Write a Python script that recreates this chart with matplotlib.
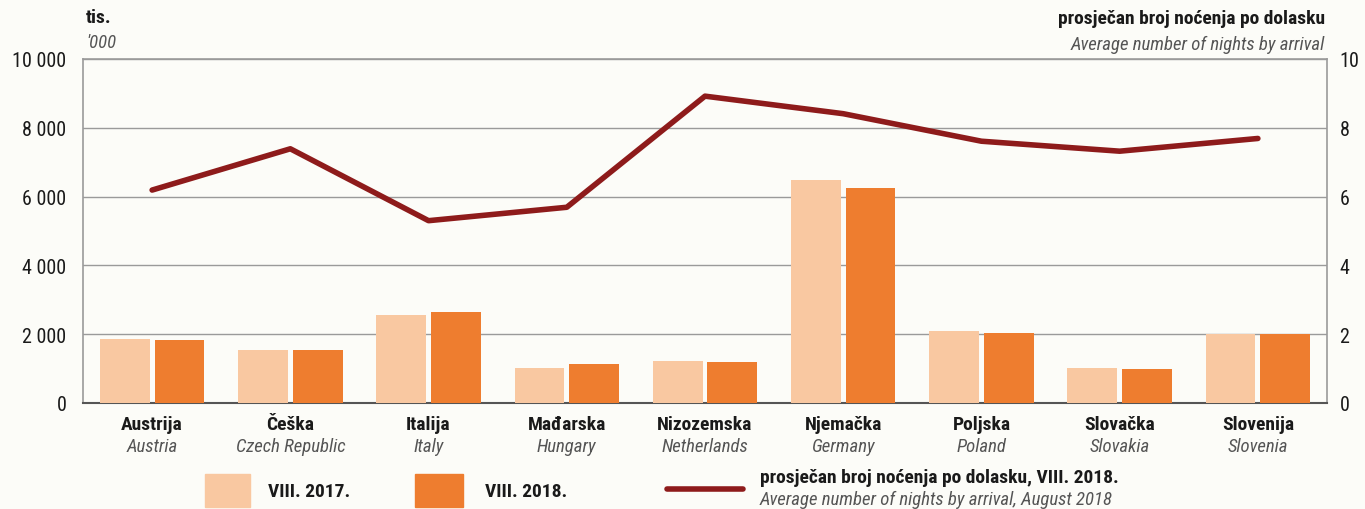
import matplotlib
matplotlib.use("Agg")
import matplotlib.pyplot as plt
from matplotlib import font_manager as fm
from matplotlib.patches import Rectangle
from matplotlib.lines import Line2D
import numpy as np

# ---- data ----
countries_hr = ["Austrija", "Češka", "Italija", "Mađarska", "Nizozemska",
                "Njemačka", "Poljska", "Slovačka", "Slovenija"]
countries_en = ["Austria", "Czech Republic", "Italy", "Hungary", "Netherlands",
                "Germany", "Poland", "Slovakia", "Slovenia"]
nights_2017 = [1860, 1540, 2570, 1030, 1220, 6470, 2100, 1030, 2000]
nights_2018 = [1840, 1540, 2650, 1120, 1190, 6240, 2030, 1000, 2000]
avg_nights_2018 = [6.19, 7.39, 5.30, 5.69, 8.92, 8.41, 7.61, 7.32, 7.69]
left_ticks = [0, 2000, 4000, 6000, 8000, 10000]
left_ticklabels = ["0", "2 000", "4 000", "6 000", "8 000", "10 000"]
right_ticks = [0, 2, 4, 6, 8, 10]

# ---- fonts ----
avail = {f.name for f in fm.fontManager.ttflist}
cands = ["Liberation Sans Narrow", "Roboto Condensed", "Roboto", "DejaVu Sans"]
fam = [c for c in cands if c in avail]
if "DejaVu Sans" not in fam:
    fam.append("DejaVu Sans")
plt.rcParams["font.family"] = fam

C17 = "#F9C8A1"
C18 = "#EE7D2F"
CLINE = "#8E1B1B"
BG = "#FCFCF8"
GRID = "#9A9A9A"
TXT = "#1a1a1a"
ITAL = "#555555"

fig = plt.figure(figsize=(13.65, 5.10), dpi=100, facecolor=BG)
ax = fig.add_axes([83/1365, 1-404/510, (1327-83)/1365, (404-60)/510])
ax.set_facecolor(BG)
x = np.arange(len(countries_hr))
w = 0.36
ax.bar(x - 0.198, nights_2017, width=w, color=C17, zorder=3)
ax.bar(x + 0.198, nights_2018, width=w, color=C18, zorder=3)
ax.set_xlim(-0.5, 8.5)
ax.set_ylim(0, 10000)
ax.set_yticks(left_ticks)
ax.set_yticklabels(left_ticklabels)
ax.yaxis.grid(True, color=GRID, linewidth=1.0, zorder=0)
ax.set_axisbelow(True)
ax.tick_params(axis="y", length=0, labelsize=14.5, pad=12, colors=TXT)
ax.set_xticks([])
for s in ["left", "right", "top"]:
    ax.spines[s].set_color(GRID)
    ax.spines[s].set_linewidth(1.2)
ax.spines["bottom"].set_color("#555555")
ax.spines["bottom"].set_linewidth(1.5)

ax2 = ax.twinx()
ax2.plot(x, avg_nights_2018, color=CLINE, linewidth=4, solid_capstyle="round",
         solid_joinstyle="round", zorder=5)
ax2.set_ylim(0, 10)
ax2.set_yticks(right_ticks)
ax2.tick_params(axis="y", length=0, labelsize=14.5, pad=9, colors=TXT)
for s in ax2.spines.values():
    s.set_visible(False)

# category labels
for i in x:
    ax.text(i, -0.035, countries_hr[i], transform=ax.get_xaxis_transform(),
            ha="center", va="top", fontsize=14, fontweight="bold", color=TXT)
    ax.text(i, -0.10, countries_en[i], transform=ax.get_xaxis_transform(),
            ha="center", va="top", fontsize=13.5, fontstyle="italic", color=ITAL)

# axis titles
fig.text(86/1365, 1-18/510, "tis.", ha="left", va="center", fontsize=14,
         fontweight="bold", color=TXT)
fig.text(86/1365, 1-43/510, "'000", ha="left", va="center", fontsize=13.5,
         fontstyle="italic", color=ITAL)
fig.text(1325/1365, 1-19/510, "prosječan broj noćenja po dolasku", ha="right",
         va="center", fontsize=14, fontweight="bold", color=TXT)
fig.text(1325/1365, 1-45/510, "Average number of nights by arrival", ha="right",
         va="center", fontsize=13.5, fontstyle="italic", color=ITAL)

# legend (manual)
fig.patches.append(Rectangle((205/1365, 1-508/510), 45/1365, 33/510,
                             transform=fig.transFigure, color=C17))
fig.text(268/1365, 1-492/510, "VIII. 2017.", ha="left", va="center", fontsize=14,
         fontweight="bold", color=TXT)
fig.patches.append(Rectangle((415/1365, 1-508/510), 48/1365, 33/510,
                             transform=fig.transFigure, color=C18))
fig.text(485/1365, 1-492/510, "VIII. 2018.", ha="left", va="center", fontsize=14,
         fontweight="bold", color=TXT)
fig.lines.append(Line2D([667/1365, 743/1365], [1-490/510, 1-490/510],
                        transform=fig.transFigure, color=CLINE, linewidth=4,
                        solid_capstyle="round"))
fig.text(760/1365, 1-478/510, "prosječan broj noćenja po dolasku, VIII. 2018.",
         ha="left", va="center", fontsize=14, fontweight="bold", color=TXT)
fig.text(760/1365, 1-500/510, "Average number of nights by arrival, August 2018",
         ha="left", va="center", fontsize=13.5, fontstyle="italic", color=ITAL)

fig.savefig("out.png", dpi=100, facecolor=BG)
